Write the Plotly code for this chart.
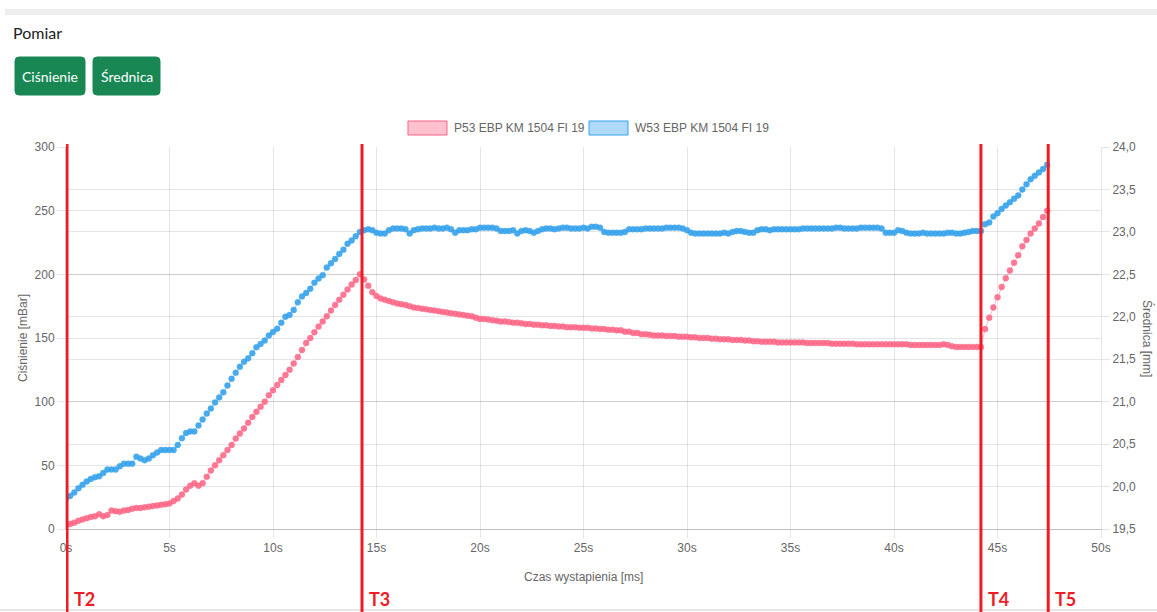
import plotly.graph_objects as go

# ---------------- data ----------------
SAMPLE_STEP_S = 0.2

pressure_mbar = [
    # 0.0 - 5.0 s
    3, 4, 5, 6.5, 7.5, 8.5, 9.5, 10, 11.5, 10, 11, 14.5, 14, 13.5, 14.5, 15, 16, 16.5, 16.5, 17,
    17.5, 18, 18.5, 19, 19.5, 20,
    # 5.2 - 7.6 s
    22, 24, 27, 31, 34, 36, 34, 36, 41, 46, 50, 54, 58,
    # 7.8 - 14.0 s
    62, 66, 71, 75, 79, 83.5, 88, 92, 96, 100, 105, 109, 113, 117, 121, 125, 130, 135, 140.5, 146,
    150, 154.5, 159, 163, 167, 171.5, 176, 180, 184, 188, 192, 195.5,
    # 14.2 - 14.8 s
    200, 196, 191, 186,
    # 15.0 - 44.2 s
    183, 181, 180, 179, 178,
    177, 176.5, 176, 175, 174,
    173.5, 173, 172.5, 172, 171.5,
    171, 170.5, 170, 169.5, 169,
    168.5, 168, 167.5, 167, 166,
    165, 165, 164.5, 164, 163.5,
    163, 163, 162.5, 162, 162,
    161.5, 161, 161, 160.5, 160.5,
    160, 160, 159.5, 159.5, 159,
    159, 158.5, 158.5, 158.5, 158,
    158, 158, 157.5, 157.5, 157,
    157, 156.5, 156.5, 156, 156,
    155, 155, 154, 154, 153,
    153, 152.5, 152, 152, 152,
    151.5, 151.5, 151.5, 151, 151,
    151, 150.5, 150.5, 150, 150,
    150, 149.5, 149.5, 149, 149,
    149, 148.5, 148.5, 148.5, 148,
    148, 147.5, 147.5, 147, 147,
    147, 147, 146.5, 146.5, 146.5,
    146.5, 146.5, 146.5, 146.5, 146,
    146, 146, 146, 146, 146,
    145.5, 145.5, 145.5, 145.5, 145.5,
    145.5, 145, 145, 145, 145,
    145, 145, 145, 145, 145,
    145, 145, 145, 145, 144.5,
    144.5, 144.5, 144.5, 144.5, 144.5,
    144.5, 144.5, 145, 144.5, 143.5,
    143, 143, 143, 143, 143,
    143, 143,
    # 44.4 - 47.4 s
    157, 166, 174, 182, 190, 197, 203, 209, 215, 222, 227, 232, 236, 240, 245, 250,
]

diameter_mm = [
    # 0.0 - 5.0 s
    19.86, 19.89, 19.93, 19.98, 20.02, 20.06, 20.09, 20.11, 20.12, 20.16, 20.2, 20.2, 20.2, 20.24,
    20.27, 20.27, 20.27, 20.35, 20.33, 20.31, 20.33, 20.37, 20.4, 20.43, 20.43, 20.43,
    # 5.2 - 7.6 s
    20.43, 20.49, 20.57, 20.63, 20.65, 20.65, 20.72, 20.79, 20.86, 20.92, 20.99, 21.05, 21.11,
    # 7.8 - 14.0 s
    21.19, 21.27, 21.34, 21.41, 21.47, 21.51, 21.57, 21.64, 21.68, 21.72, 21.78, 21.82, 21.86,
    21.93, 22.0, 22.02, 22.08, 22.17, 22.24, 22.28, 22.33, 22.4, 22.45, 22.49, 22.58, 22.63,
    22.68, 22.74, 22.79, 22.86, 22.9, 22.95,
    # 14.2 - 14.8 s
    23.0, 23.02, 23.03, 23.02,
    # 15.0 - 44.2 s
    22.99, 22.98, 22.98, 23.02, 23.04,
    23.04, 23.04, 23.03, 22.98, 23.02,
    23.03, 23.04, 23.04, 23.04, 23.05,
    23.04, 23.04, 23.05, 23.03, 22.99,
    23.02, 23.02, 23.02, 23.03, 23.03,
    23.05, 23.05, 23.05, 23.05, 23.04,
    23.01, 23.01, 23.01, 23.02, 22.98,
    23.01, 23.02, 23.01, 22.99, 23.01,
    23.03, 23.04, 23.04, 23.03, 23.04,
    23.05, 23.05, 23.04, 23.04, 23.04,
    23.05, 23.04, 23.06, 23.06, 23.05,
    23.0, 22.99, 22.99, 22.99, 22.99,
    23.0, 23.03, 23.03, 23.03, 23.03,
    23.04, 23.04, 23.04, 23.04, 23.04,
    23.05, 23.05, 23.05, 23.05, 23.04,
    23.02, 22.99, 22.98, 22.98, 22.98,
    22.98, 22.98, 22.98, 22.98, 22.99,
    22.98, 23.0, 23.01, 23.01, 23.0,
    22.99, 22.99, 23.02, 23.03, 23.03,
    23.02, 23.03, 23.03, 23.03, 23.03,
    23.03, 23.03, 23.03, 23.04, 23.04,
    23.04, 23.04, 23.04, 23.04, 23.04,
    23.04, 23.05, 23.05, 23.04, 23.04,
    23.04, 23.04, 23.05, 23.05, 23.05,
    23.05, 23.05, 23.04, 22.99, 22.99,
    22.99, 23.02, 23.01, 22.99, 22.98,
    22.98, 22.98, 22.99, 22.98, 22.98,
    22.98, 22.98, 22.98, 22.99, 22.99,
    22.98, 22.98, 22.99, 23.0, 23.01,
    23.01, 23.01,
    # 44.4 - 47.4 s
    23.09, 23.11, 23.18, 23.22, 23.27, 23.31, 23.35, 23.39, 23.43, 23.5, 23.56, 23.62, 23.66,
    23.7, 23.74, 23.79,
]

time_s = [round(i * SAMPLE_STEP_S, 1) for i in range(len(pressure_mbar))]

series_names = ["P53 EBP KM 1504 FI 19", "W53 EBP KM 1504 FI 19"]
event_labels = ["T2", "T3", "T4", "T5"]
event_times_s = [0.05, 14.3, 44.2, 47.45]

x_ticks = [0, 5, 10, 15, 20, 25, 30, 35, 40, 45, 50]
x_tick_labels = [f"{v}s" for v in x_ticks]

# ---------------- layout helpers ----------------
W, H = 1157, 612
# plot area in page pixels
L, R, T, B = 66, 1101, 147, 529


def px(x):
    return (x - L) / (R - L)


def py(y):
    return (B - y) / (B - T)


def rounded_rect(x0, y0, x1, y1, r):
    rx = r / (R - L)
    ry = r / (B - T)
    X0, X1 = px(x0), px(x1)
    Y0, Y1 = py(y1), py(y0)  # bottom, top in paper
    return (f"M {X0+rx},{Y0} L {X1-rx},{Y0} Q {X1},{Y0} {X1},{Y0+ry} "
            f"L {X1},{Y1-ry} Q {X1},{Y1} {X1-rx},{Y1} L {X0+rx},{Y1} "
            f"Q {X0},{Y1} {X0},{Y1-ry} L {X0},{Y0+ry} Q {X0},{Y0} {X0+rx},{Y0} Z")


RED = "rgb(255,99,132)"
BLUE = "rgb(54,162,235)"
GRID = "rgba(0,0,0,0.1)"
TXT = "#666"
CHART_FONT = "Liberation Sans"

fig = go.Figure()

fig.add_trace(go.Scatter(
    x=time_s, y=pressure_mbar, name=series_names[0], mode="lines+markers",
    line=dict(color="rgba(255,99,132,0.45)", width=1),
    marker=dict(color="rgba(255,99,132,0.85)", size=6,
                line=dict(color="rgba(255,99,132,0.35)", width=1)),
    yaxis="y", showlegend=False,
))
fig.add_trace(go.Scatter(
    x=time_s, y=diameter_mm, name=series_names[1], mode="lines+markers",
    line=dict(color="rgba(54,162,235,0.45)", width=1),
    marker=dict(color="rgba(54,162,235,0.9)", size=6,
                line=dict(color="rgba(54,162,235,0.35)", width=1)),
    yaxis="y2", showlegend=False,
))

shapes = []
annotations = []

# top gray bar
shapes.append(dict(type="rect", xref="paper", yref="paper",
                   x0=px(5), x1=px(1157), y0=py(15), y1=py(9),
                   fillcolor="#eeeeee", line=dict(width=0), layer="below"))
# bottom faint line
shapes.append(dict(type="line", xref="paper", yref="paper",
                   x0=px(0), x1=px(1157), y0=py(610), y1=py(610),
                   line=dict(color="#e6e6e6", width=2)))

# title
annotations.append(dict(text="Pomiar", xref="paper", yref="paper", x=px(11), y=py(33),
                        xanchor="left", yanchor="middle", showarrow=False,
                        font=dict(family="Lato", size=16, color="#222")))

# buttons
buttons = [("Ciśnienie", 15, 85), ("Średnica", 93, 160)]
for label, bx0, bx1 in buttons:
    shapes.append(dict(type="path", xref="paper", yref="paper",
                       path=rounded_rect(bx0, 57, bx1, 95, 4),
                       fillcolor="#198754", line=dict(color="#198754", width=1)))
    annotations.append(dict(text=label, xref="paper", yref="paper",
                            x=px((bx0 + bx1) / 2), y=py(76.5), xanchor="center", yanchor="middle",
                            showarrow=False, font=dict(family="Lato", size=14, color="white")))

# legend (Chart.js style boxes)
legend_items = [(series_names[0], 408, "rgba(255,99,132,0.4)", RED),
                (series_names[1], 589, "rgba(54,162,235,0.4)", BLUE)]
for name, lx, fill, border in legend_items:
    shapes.append(dict(type="rect", xref="paper", yref="paper",
                       x0=px(lx), x1=px(lx + 39), y0=py(135), y1=py(121),
                       fillcolor=fill, line=dict(color=border, width=1)))
    annotations.append(dict(text=name, xref="paper", yref="paper", x=px(lx + 44), y=py(128),
                            xanchor="left", yanchor="middle", showarrow=False,
                            font=dict(family=CHART_FONT, size=12, color=TXT)))

# axis titles
annotations.append(dict(text="Czas wystapienia [ms]", xref="paper", yref="paper",
                        x=px(583), y=py(577), xanchor="center", yanchor="middle",
                        showarrow=False, font=dict(family=CHART_FONT, size=12, color=TXT)))
annotations.append(dict(text="Ciśnienie [mBar]", xref="paper", yref="paper",
                        x=px(23), y=py(338), xanchor="center", yanchor="middle",
                        textangle=-90, showarrow=False,
                        font=dict(family=CHART_FONT, size=12, color=TXT)))
annotations.append(dict(text="Średnica [mm]", xref="paper", yref="paper",
                        x=px(1148), y=py(338), xanchor="center", yanchor="middle",
                        textangle=90, showarrow=False,
                        font=dict(family=CHART_FONT, size=12, color=TXT)))

# event markers
for lab, tx in zip(event_labels, event_times_s):
    shapes.append(dict(type="line", xref="x", yref="paper", x0=tx, x1=tx,
                       y0=py(612), y1=py(144), line=dict(color="#ee1c25", width=3)))
    annotations.append(dict(text=f"<b>{lab}</b>", xref="x", yref="paper", x=tx, y=py(599),
                            xanchor="left", yanchor="middle", xshift=5, showarrow=False,
                            font=dict(family="Lato", size=18, color="#ee1c25")))

fig.update_layout(
    width=W, height=H,
    margin=dict(l=L, r=W - R, t=T, b=H - B, pad=0),
    paper_bgcolor="white", plot_bgcolor="white",
    separators=", ",
    shapes=shapes, annotations=annotations,
    showlegend=False,
    font=dict(family=CHART_FONT, size=12, color=TXT),
    xaxis=dict(range=[0, 50], tickmode="array", tickvals=x_ticks, ticktext=x_tick_labels,
               showgrid=True, gridcolor=GRID, gridwidth=1, zeroline=False,
               showline=True, linecolor="rgba(0,0,0,0.25)", linewidth=1,
               ticks="outside", ticklen=8, tickcolor=GRID,
               tickfont=dict(family=CHART_FONT, size=12, color=TXT)),
    yaxis=dict(range=[0, 300], tick0=0, dtick=50, showgrid=True, gridcolor=GRID,
               zeroline=False, showline=True, linecolor="rgba(0,0,0,0.25)",
               ticks="outside", ticklen=8, tickcolor=GRID,
               tickfont=dict(family=CHART_FONT, size=12, color=TXT)),
    yaxis2=dict(range=[19.5, 24], tick0=19.5, dtick=0.5, tickformat=".1f",
                overlaying="y", side="right", showgrid=True, gridcolor=GRID,
                zeroline=False, showline=True, linecolor=GRID,
                ticks="outside", ticklen=8, tickcolor=GRID,
                tickfont=dict(family=CHART_FONT, size=12, color=TXT)),
)

# remove the default page margin so the figure fills the 1157x612 window exactly
page_css = ("document.body.style.margin='0';document.body.style.padding='0';"
            "document.body.style.overflow='hidden';"
            "document.documentElement.style.overflow='hidden';")

fig.write_html("out.html", post_script=page_css, config={"displayModeBar": False})
